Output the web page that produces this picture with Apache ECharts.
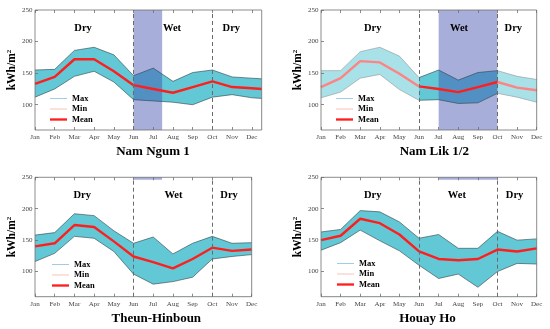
<!DOCTYPE html>
<html><head><meta charset="utf-8">
<script src="https://cdn.jsdelivr.net/npm/echarts@6/dist/echarts.min.js"></script>
<style>html,body{margin:0;padding:0;background:#fff}#c{width:550px;height:329px}</style>
</head><body><div id="c"></div>
<script>
const months = ['Jan','Feb','Mar','Apr','May','Jun','Jul','Aug','Sep','Oct','Nov','Dec'];
const yTicks = [100,150,200,250];
const seasonLabels = ['Dry','Wet','Dry'];
const titles = ['Nam Ngum 1','Nam Lik 1/2','Theun-Hinboun','Houay Ho'];

// Nam Ngum 1 (last value is at the right edge of the panel, half a month past Dec)
const p1Max  = [155,156,186,191,179,146,158,137,151,155,144,142,141];
const p1Mean = [133,144,172,172,153,131,125,119,128,137,128,126,125];
const p1Min  = [112,125,145,153,136,108,106,104,100,112,116,111,110];
// Nam Lik 1/2
const p2Max  = [154,154,184,191,177,143,155,139,151,154,145,140];
const p2Mean = [128,142,169,167,149,129,125,120,128,136,127,123];
const p2Min  = [111,120,142,148,124,107,108,102,103,118,112,104];
// Theun-Hinboun
const p3Max  = [158,162,192,189,165,145,155,128,145,156,145,146];
const p3Mean = [140,145,174,171,148,124,115,105,120,138,133,135];
const p3Min  = [116,129,156,153,132,96,80,84,91,120,124,127];
// Houay Ho
const p4Max  = [163,167,197,195,179,153,159,137,137,164,150,152];
const p4Mean = [150,157,184,177,159,132,120,118,120,135,132,137];
const p4Min  = [134,146,166,149,133,110,89,96,75,100,113,112];

const SERIF = '"Liberation Serif","Times New Roman",serif';
const BAND = '#63C8D5';
const SHADE = 'rgba(62,76,172,0.45)';

const panels = [
  {max:p1Max, mean:p1Mean, min:p1Min, grid:{left:35, top:10, width:226.7, height:120}, xMax:11.5,
   wet:[5,6.45], strip:false, fade:false, season:[2.44,6.95,9.96], title:[153,145],
   legend:[50,93.5]},
  {max:p2Max, mean:p2Mean, min:p2Min, grid:{left:321, top:10, width:215.7, height:120}, xMax:11,
   wet:[6,9], strip:false, fade:true, season:[2.64,7.04,9.81], title:[434.3,145],
   legend:[336,93.5]},
  {max:p3Max, mean:p3Mean, min:p3Min, grid:{left:35, top:177.3, width:216.7, height:119.4}, xMax:11,
   wet:[5,6.45], strip:true, fade:false, season:[2.4,7.03,9.85], title:[156.3,311.8],
   legend:[52,259.5]},
  {max:p4Max, mean:p4Mean, min:p4Min, grid:{left:321, top:177.3, width:215.7, height:119.4}, xMax:11,
   wet:[6,9], strip:true, fade:false, season:[2.64,6.93,9.87], title:[427.5,311.8],
   legend:[337,258.5]}
];

const xIdx = (i, xMax) => (i < 12 ? i : xMax);

const grid = [], xAxis = [], yAxis = [], series = [], title = [], legend = [];
const monthIdx = months.map((m,i)=>i);

const lineIcon = h => 'path://M0,0H40V' + h + 'H0Z';
const legendData = [
  {name:'Max', icon:lineIcon(2), itemStyle:{color:'#8fc3e3'}},
  {name:'Min', icon:lineIcon(2), itemStyle:{color:'#f6b8a6'}},
  {name:'Mean', icon:lineIcon(5.5), itemStyle:{color:'#FF1E1E'}}
];

panels.forEach((p, k) => {
  grid.push(Object.assign({show:true, z:10, borderColor:'#6e6e6e', borderWidth:0.8, backgroundColor:'transparent'}, p.grid));
  xAxis.push({type:'value', gridIndex:k, min:0, max:p.xMax, z:10,
    axisLine:{show:false}, splitLine:{show:false},
    axisTick:{show:true, inside:true, length:3, lineStyle:{color:'#6e6e6e', width:0.8}, customValues:monthIdx},
    axisLabel:{show:true, customValues:monthIdx, formatter:v=>months[Math.round(v)]||'', margin:3.5,
      fontFamily:SERIF, fontSize:7, color:'#444'}});
  xAxis.push({type:'value', gridIndex:k, min:0, max:p.xMax, position:'top', z:10,
    axisLine:{show:false}, splitLine:{show:false}, axisLabel:{show:false},
    axisTick:{show:true, inside:true, length:3, lineStyle:{color:'#6e6e6e', width:0.8}, customValues:monthIdx}});
  yAxis.push({type:'value', gridIndex:k, min:60, max:250, z:10,
    axisLine:{show:false}, splitLine:{show:false},
    axisTick:{show:true, inside:true, length:3, lineStyle:{color:'#6e6e6e', width:0.8}, customValues:yTicks},
    axisLabel:{customValues:yTicks, margin:2.5, fontFamily:SERIF, fontSize:7, color:'#444'},
    name:'{a|kWh/m}{b|2}', nameLocation:'middle', nameGap:17, nameRotate:90,
    nameTextStyle:{rich:{a:{fontFamily:SERIF, fontSize:11.5, fontWeight:'bold', color:'#000'},
                         b:{fontFamily:SERIF, fontSize:7, fontWeight:'bold', color:'#000', verticalAlign:'top', padding:[0,0,5,0]}}}});
  const xa = k*2, ya = k;
  const pts = arr => arr.map((v,i)=>[xIdx(i,p.xMax), v]);
  // band: fill under max, then white under min
  series.push({type:'line', xAxisIndex:xa, yAxisIndex:ya, data:pts(p.max), symbol:'none',
    lineStyle:{opacity:0}, areaStyle:{color:BAND, opacity:1, origin:'start'}, silent:true, z:1});
  series.push({type:'line', xAxisIndex:xa, yAxisIndex:ya, data:pts(p.min), symbol:'none',
    lineStyle:{opacity:0}, areaStyle:{color:'#ffffff', opacity:1, origin:'start'}, silent:true, z:1});
  // wet shading
  if (p.strip) {
    series.push({type:'line', xAxisIndex:xa, yAxisIndex:ya, data:[[p.wet[0],246],[p.wet[1],246]], symbol:'none',
      lineStyle:{opacity:0}, areaStyle:{color:SHADE, opacity:1, origin:'end'}, silent:true, z:2});
  } else {
    series.push({type:'line', xAxisIndex:xa, yAxisIndex:ya, data:[[p.wet[0],250],[p.wet[1],250]], symbol:'none',
      lineStyle:{opacity:0}, areaStyle:{color:SHADE, opacity:1, origin:'start'}, silent:true, z:2});
  }
  // edges
  series.push({type:'line', xAxisIndex:xa, yAxisIndex:ya, data:pts(p.max), symbol:'none',
    lineStyle:{color:'#2f3f46', width:0.6}, silent:true, z:3});
  series.push({type:'line', xAxisIndex:xa, yAxisIndex:ya, data:pts(p.min), symbol:'none',
    lineStyle:{color:'#2f3f46', width:0.6}, silent:true, z:3});
  // mean
  series.push({name:'Mean', type:'line', xAxisIndex:xa, yAxisIndex:ya, data:pts(p.mean), symbol:'none',
    lineStyle:{color:'#FF1E1E', width:2.4}, silent:true, z:3});
  // fade for Nam Lik outside wet period
  if (p.fade) {
    [[0,5],[9,11]].forEach(r=>{
      series.push({type:'line', xAxisIndex:xa, yAxisIndex:ya, data:[[r[0],250],[r[1],250]], symbol:'none',
        lineStyle:{opacity:0}, areaStyle:{color:'rgba(255,255,255,0.45)', opacity:1, origin:'start'}, silent:true, z:4});
    });
  }
  // dashed lines + season labels
  series.push({type:'line', xAxisIndex:xa, yAxisIndex:ya, data:[], symbol:'none', silent:true, z:5,
    markLine:{silent:true, symbol:['none','none'], label:{show:false},
      lineStyle:{color:'#6a6a6a', type:[4,3], width:1}, data:[{xAxis:5},{xAxis:9}]},
    markPoint:{silent:true, symbol:'circle', symbolSize:0,
      label:{show:true, position:'inside', formatter:'{b}', fontFamily:SERIF, fontSize:10.5, fontWeight:'bold', color:'#000'},
      data:seasonLabels.map((s,i)=>({name:s, coord:[p.season[i], 221]}))}});
  title.push({text:titles[k], left:p.title[0], top:p.title[1], textAlign:'center', padding:0,
    textStyle:{fontFamily:SERIF, fontSize:13, fontWeight:'bold', color:'#000'}});
  legend.push({left:p.legend[0], top:p.legend[1], orient:'vertical', padding:0, itemGap:0.5, z:12,
    itemWidth:17, itemHeight:6, data:legendData, selectedMode:false,
    textStyle:{fontFamily:SERIF, fontSize:8.5, fontWeight:'bold', color:'#000', lineHeight:10}});
});
// legend-only entries
series.push({name:'Max', type:'line', xAxisIndex:0, yAxisIndex:0, data:[], symbol:'none', lineStyle:{color:'#8fc3e3', width:1}});
series.push({name:'Min', type:'line', xAxisIndex:0, yAxisIndex:0, data:[], symbol:'none', lineStyle:{color:'#f6b8a6', width:1}});

const chart = echarts.init(document.getElementById('c'), null, {renderer:'canvas'});
chart.setOption({animation:false, title, legend, grid, xAxis, yAxis, series});
</script></body></html>
